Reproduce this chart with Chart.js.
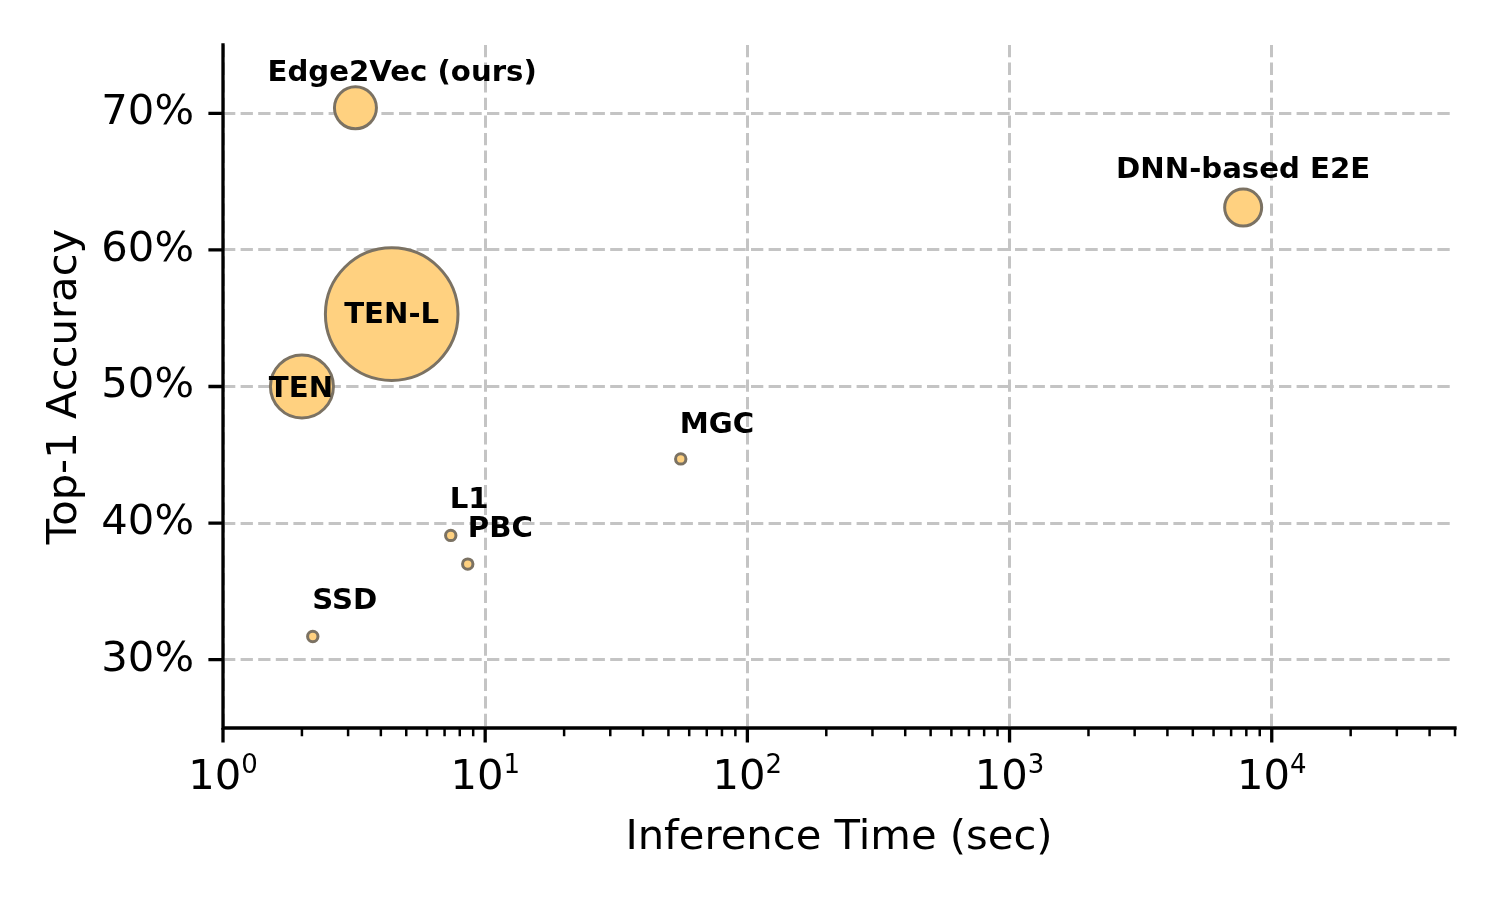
<!DOCTYPE html>
<html>
<head>
<meta charset="utf-8">
<script src="https://cdn.jsdelivr.net/npm/chart.js@4/dist/chart.umd.min.js"></script>
<style>
  html, body { margin: 0; padding: 0; background: #ffffff; }
  #wrap { width: 1500px; height: 900px; }
</style>
</head>
<body>
<div id="wrap"><canvas id="c" width="1500" height="900"></canvas></div>
<script>
// ---- data ----
const models = ['Edge2Vec (ours)', 'DNN-based E2E', 'TEN-L', 'TEN', 'MGC', 'L1', 'PBC', 'SSD'];
const inferenceTime = [3.2, 7780, 4.4, 2.0, 55.7, 7.39, 8.58, 2.2];      // seconds
const accuracy = [70.4, 63.1, 55.3, 50.0, 44.7, 39.1, 37.0, 31.7];       // top-1 %
const bubbleSize = [21, 18.5, 66.3, 31.5, 5.2, 5.2, 5.2, 5.2];          // bubble radius value
const yTickValues = [30, 40, 50, 60, 70];
const xMajorTickValues = [1, 10, 100, 1000, 10000];
const xMin = 1, xMax = 50000, yMin = 25, yMax = 75;

// label placement (pixel offsets from the point, baseline) -- styling only
const labelPlacement = [
  { dx: -88, dy: -27, align: 'left' },
  { dx: 0, dy: -30, align: 'center' },
  { dx: 0, dy: 9, align: 'center' },
  { dx: -1, dy: 10, align: 'center' },
  { dx: -1, dy: -26, align: 'left' },
  { dx: -1, dy: -27, align: 'left' },
  { dx: 0, dy: -27, align: 'left' },
  { dx: -0.5, dy: -27, align: 'left' }
];

// minor log ticks (2..9 in each decade) within the axis range
const xMinorTickValues = [];
xMajorTickValues.forEach(d => { for (let k = 2; k <= 9; k++) { const v = d * k; if (v <= xMax) xMinorTickValues.push(v); } });

const FONT = 'DejaVu Sans';
const TICK_PX = 41.7;
const SUP_PX = 26;

const axesPlugin = {
  id: 'axesPlugin',
  afterDatasetsDraw(chart) {
    const ctx = chart.ctx;
    const meta = chart.getDatasetMeta(0);
    ctx.save();
    ctx.fillStyle = '#000000';
    ctx.font = 'bold 29.2px "' + FONT + '"';
    ctx.textBaseline = 'alphabetic';
    meta.data.forEach((el, i) => {
      const p = labelPlacement[i];
      ctx.textAlign = p.align;
      ctx.fillText(models[i], el.x + p.dx, el.y + p.dy);
    });
    ctx.restore();
  },
  afterDraw(chart) {
    const ctx = chart.ctx;
    const xs = chart.scales.x, ys = chart.scales.y;
    const a = chart.chartArea;
    ctx.save();
    ctx.strokeStyle = '#000000';
    ctx.lineWidth = 3.3;
    ctx.lineCap = 'square';
    ctx.beginPath();
    ctx.moveTo(a.left, a.top); ctx.lineTo(a.left, a.bottom); ctx.lineTo(a.right, a.bottom);
    ctx.stroke();
    ctx.lineCap = 'butt';
    ctx.lineWidth = 3.3;
    ctx.beginPath();
    xMajorTickValues.forEach(v => { const px = xs.getPixelForValue(v); ctx.moveTo(px, a.bottom); ctx.lineTo(px, a.bottom + 14.6); });
    yTickValues.forEach(v => { const py = ys.getPixelForValue(v); ctx.moveTo(a.left, py); ctx.lineTo(a.left - 14.6, py); });
    ctx.stroke();
    ctx.lineWidth = 2.5;
    ctx.beginPath();
    xMinorTickValues.forEach(v => { const px = xs.getPixelForValue(v); ctx.moveTo(px, a.bottom); ctx.lineTo(px, a.bottom + 8.3); });
    ctx.stroke();
    // x tick labels as 10 with a superscript exponent
    ctx.fillStyle = '#000000';
    ctx.textAlign = 'left';
    ctx.textBaseline = 'alphabetic';
    xMajorTickValues.forEach(v => {
      const px = xs.getPixelForValue(v);
      const exp = String(Math.round(Math.log10(v)));
      ctx.font = TICK_PX + 'px "' + FONT + '"';
      const w1 = ctx.measureText('10').width;
      ctx.font = SUP_PX + 'px "' + FONT + '"';
      const w2 = ctx.measureText(exp).width;
      const x0 = px - (w1 + w2) / 2;
      ctx.font = TICK_PX + 'px "' + FONT + '"';
      ctx.fillText('10', x0, a.bottom + 60.5);
      ctx.font = SUP_PX + 'px "' + FONT + '"';
      ctx.fillText(exp, x0 + w1, a.bottom + 44.7);
    });
    ctx.restore();
  }
};

new Chart(document.getElementById('c'), {
  type: 'bubble',
  data: {
    datasets: [{
      label: 'Models',
      data: models.map((m, i) => ({ x: inferenceTime[i], y: accuracy[i], r: bubbleSize[i] })),
      backgroundColor: '#FFD180',
      borderColor: '#7b7263',
      borderWidth: 3,
      hoverRadius: 0
    }]
  },
  options: {
    responsive: false,
    devicePixelRatio: 1,
    animation: false,
    events: [],
    layout: { autoPadding: false, padding: { top: 45, right: 45, left: 0, bottom: 0 } },
    plugins: { legend: { display: false }, tooltip: { enabled: false } },
    scales: {
      x: {
        type: 'logarithmic',
        min: xMin, max: xMax,
        afterBuildTicks: s => { s.ticks = xMajorTickValues.map(v => ({ value: v, major: true })); },
        afterFit: s => { s.height = 172; s.paddingLeft = 0; s.paddingRight = 0; },
        ticks: { display: false, autoSkip: false, maxRotation: 0, minRotation: 0 },
        grid: { color: '#c4c4c4', lineWidth: 3, drawTicks: false },
        border: { display: false, dash: [12.3, 5.3] },
        title: {
          display: true, text: 'Inference Time (sec)', color: '#000000',
          font: { family: FONT, size: TICK_PX }, padding: { top: 0, bottom: 37 }
        }
      },
      y: {
        type: 'linear',
        min: yMin, max: yMax,
        afterBuildTicks: s => { s.ticks = yTickValues.map(v => ({ value: v })); },
        afterFit: s => { s.width = 223; s.paddingTop = 0; s.paddingBottom = 0; },
        ticks: {
          padding: 29,
          color: '#000000',
          font: { family: FONT, size: TICK_PX },
          callback: v => v + '%'
        },
        grid: { color: '#c4c4c4', lineWidth: 3, drawTicks: false },
        border: { display: false, dash: [12.3, 5.3] },
        title: {
          display: true, text: 'Top-1 Accuracy', color: '#000000',
          font: { family: FONT, size: TICK_PX }, padding: { top: 40, bottom: 0 }
        }
      }
    }
  },
  plugins: [axesPlugin]
});
</script>
</body>
</html>
